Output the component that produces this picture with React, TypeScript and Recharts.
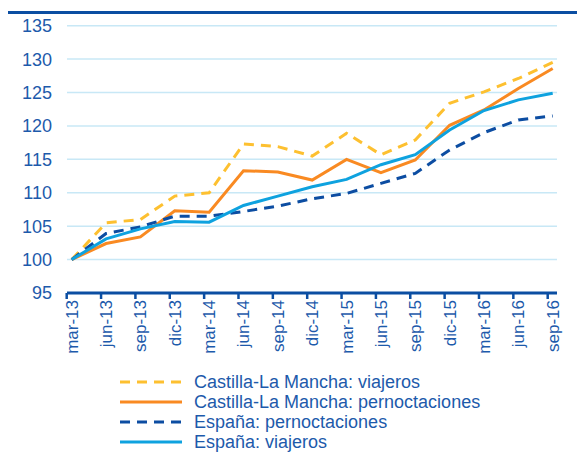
import { LineChart, Line, XAxis, YAxis, CartesianGrid, Legend } from "recharts"

const periods = [
  "mar-13", "jun-13", "sep-13", "dic-13", "mar-14", "jun-14", "sep-14", "dic-14",
  "mar-15", "jun-15", "sep-15", "dic-15", "mar-16", "jun-16", "sep-16",
]
const clmViajeros = [100, 105.5, 106.0, 109.5, 110.0, 117.3, 116.9, 115.5, 118.9, 115.7, 117.9, 123.4, 125.1, 127.1, 129.5]
const clmPernoctaciones = [100, 102.4, 103.4, 107.3, 107.1, 113.3, 113.1, 111.9, 115.0, 113.0, 114.9, 120.1, 122.4, 125.6, 128.6]
const espPernoctaciones = [100, 103.9, 104.9, 106.5, 106.5, 107.2, 108.0, 109.1, 109.9, 111.4, 112.9, 116.4, 119.0, 120.9, 121.5]
const espViajeros = [100, 103.1, 104.6, 105.7, 105.6, 108.1, 109.5, 110.9, 112.0, 114.2, 115.7, 119.4, 122.3, 123.9, 124.9]
const yTicks = [95, 100, 105, 110, 115, 120, 125, 130, 135]

const data = periods.map((p, i) => ({
  period: p,
  clmV: clmViajeros[i],
  clmP: clmPernoctaciones[i],
  espP: espPernoctaciones[i],
  espV: espViajeros[i],
}))

const FONT = '"Liberation Sans", Arial, sans-serif'
const TEXT = "#1d5aab"
const AXIS = "#0b4ea2"

const series = [
  { key: "clmV", name: "Castilla-La Mancha: viajeros", color: "#fdc030", dash: "10 7" },
  { key: "clmP", name: "Castilla-La Mancha: pernoctaciones", color: "#f98a22", dash: undefined },
  { key: "espP", name: "España: pernoctaciones", color: "#0c4da2", dash: "10 7" },
  { key: "espV", name: "España: viajeros", color: "#0ea2df", dash: undefined },
]

function XTick({ x, y, payload }: any) {
  return (
    <g>
      <line x1={x - 5} x2={x - 5} y1={y} y2={y + 6} stroke={AXIS} strokeWidth={2.5} />
      <text
        transform={`translate(${x},${y + 7}) rotate(-90)`}
        textAnchor="end"
        dy="0.35em"
        fill={TEXT}
        fontSize={17}
        fontFamily={FONT}
      >
        {payload.value}
      </text>
    </g>
  )
}

function LegendBox() {
  return (
    <div style={{ fontFamily: FONT, fontSize: 18, color: TEXT }}>
      {series.map((s) => (
        <div key={s.key} style={{ display: "flex", alignItems: "center", height: 20 }}>
          <svg width={62} height={6} style={{ marginRight: 12 }}>
            <line x1={0} x2={62} y1={3} y2={3} stroke={s.color} strokeWidth={3} strokeDasharray={s.dash} />
          </svg>
          <span style={{ lineHeight: "20px" }}>{s.name}</span>
        </div>
      ))}
    </div>
  )
}

export default function App() {
  return (
    <div style={{ position: "absolute", left: 0, top: 0, width: 577, height: 453, background: "#fff" }}>
      <div style={{ position: "absolute", left: 8, top: 11, width: 569, height: 3, background: AXIS }} />
      <LineChart width={577} height={453} data={data} margin={{ top: 25.7, right: 20, left: 0, bottom: 0 }}>
        <CartesianGrid vertical={false} stroke="#c8e8f6" strokeWidth={1.5} />
        <XAxis
          dataKey="period"
          height={160}
          padding={{ left: 4.7, right: 4.3 }}
          axisLine={{ stroke: AXIS, strokeWidth: 3 }}
          tickLine={false}
          tickSize={0}
          tickMargin={0}
          interval={0}
          tick={<XTick />}
        />
        <YAxis
          width={67}
          domain={[95, 135]}
          ticks={yTicks}
          axisLine={false}
          tickLine={false}
          tickSize={0}
          tickMargin={15}
          tick={{ fill: TEXT, fontSize: 18, fontFamily: FONT }}
        />
        {series.map((s) => (
          <Line
            key={s.key}
            type="linear"
            dataKey={s.key}
            name={s.name}
            stroke={s.color}
            strokeWidth={3}
            strokeDasharray={s.dash}
            dot={false}
            isAnimationActive={false}
          />
        ))}
        <Legend
          layout="horizontal"
          verticalAlign="middle"
          align="center"
          content={<LegendBox />}
          wrapperStyle={{ position: "absolute", left: 120, top: 372, width: 400, height: 80 }}
        />
      </LineChart>
    </div>
  )
}
